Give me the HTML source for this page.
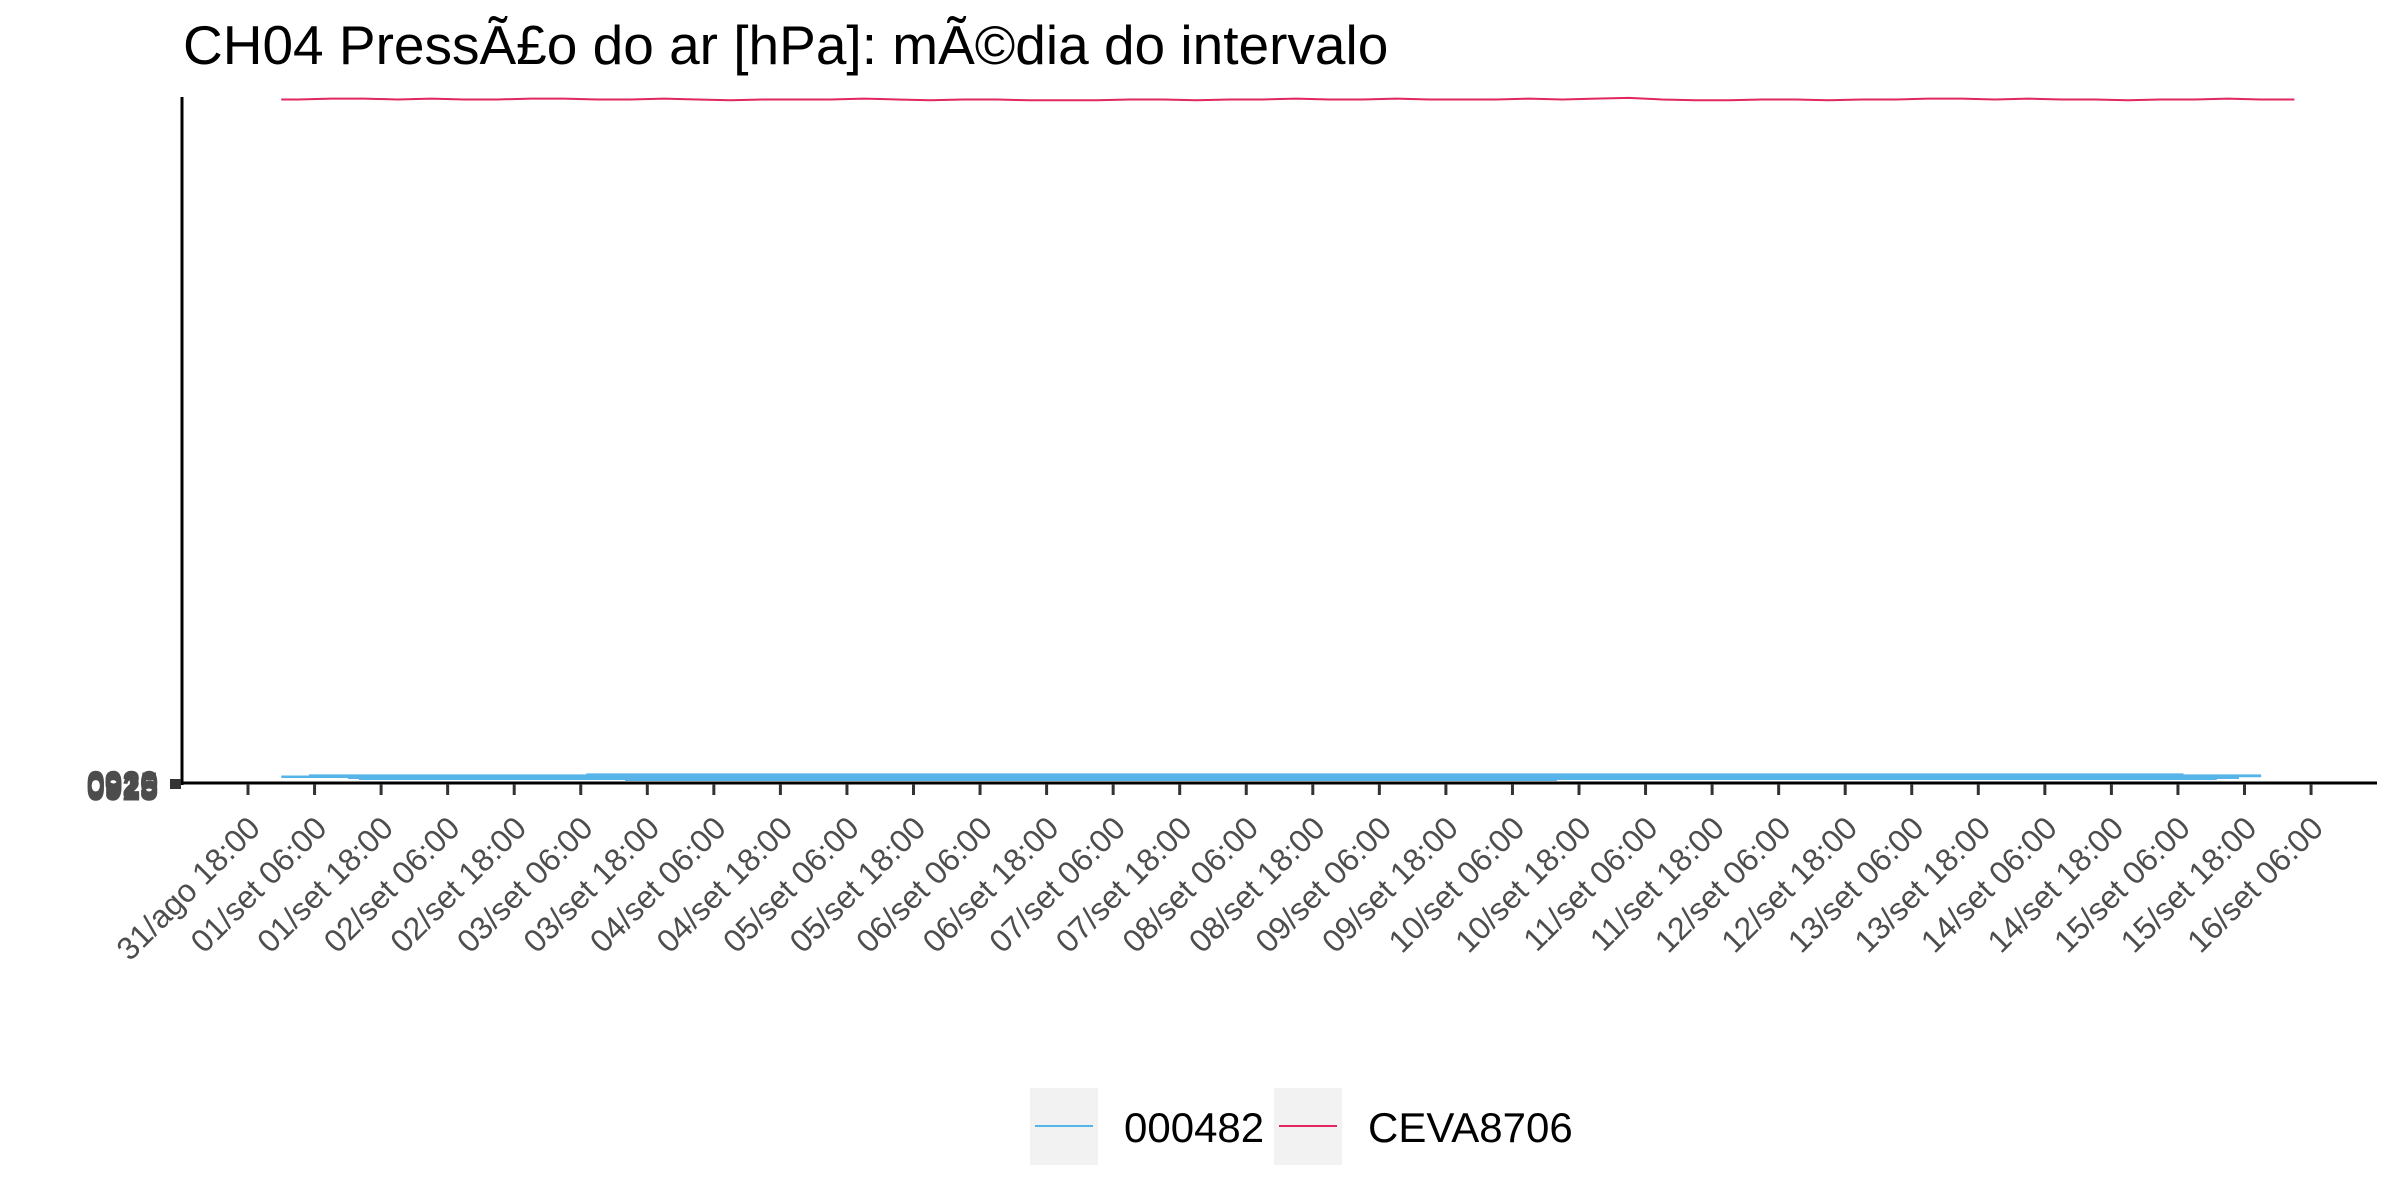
<!DOCTYPE html>
<html><head><meta charset="utf-8"><style>
html,body{margin:0;padding:0;background:#fff;}
svg{display:block;font-family:"Liberation Sans",sans-serif;}
</style></head><body>
<svg id="chart" width="2400" height="1200" viewBox="0 0 2400 1200">
<text x="183" y="64" font-size="55" fill="#000">CH04 PressÃ£o do ar [hPa]: mÃ©dia do intervalo</text>
<g id="plot"></g>
<g id="xaxis"></g>
<g id="yaxis"></g>
<g>
 <g>
  <rect x="1030" y="1088" width="68" height="77" fill="#f2f2f2"/>
  <line x1="1035" x2="1093" y1="1126" y2="1126" stroke="#56b4e9" stroke-width="2"/>
  <text x="1124" y="1142" font-size="42" fill="#000">000482</text>
 </g>
 <g>
  <rect x="1274" y="1088" width="68" height="77" fill="#f2f2f2"/>
  <line x1="1279" x2="1337" y1="1126" y2="1126" stroke="#e2265f" stroke-width="2"/>
  <text x="1368" y="1142" font-size="42" fill="#000">CEVA8706</text>
 </g>
</g>
</svg>
<script>
const tickLabels = ["31/ago 18:00","01/set 06:00","01/set 18:00","02/set 06:00","02/set 18:00","03/set 06:00","03/set 18:00","04/set 06:00","04/set 18:00","05/set 06:00","05/set 18:00","06/set 06:00","06/set 18:00","07/set 06:00","07/set 18:00","08/set 06:00","08/set 18:00","09/set 06:00","09/set 18:00","10/set 06:00","10/set 18:00","11/set 06:00","11/set 18:00","12/set 06:00","12/set 18:00","13/set 06:00","13/set 18:00","14/set 06:00","14/set 18:00","15/set 06:00","15/set 18:00","16/set 06:00"];
const yTickLabels = ["0920","925","0915","915","0925"];
const redHours = [6,9,15,21,27,33,39,45,51,57,63,69,75,81,87,93,99,105,111,117,123,129,135,141,147,153,159,165,171,177,183,189,195,201,207,213,219,225,231,237,243,249,255,261,267,273,279,285,291,297,303,309,315,321,327,333,339,345,351,357,363,369];
const redValues = [922,922,923,923,922,923,922,922,923,923,922,922,923,922,921,922,922,922,923,922,921,922,922,921,921,921,922,922,921,922,922,923,922,922,923,922,922,922,923,922,923,924,922,921,921,922,922,921,922,922,923,923,922,923,922,922,921,922,922,923,922,922];
const blueHours = [6,11,18,20,61,68,236,349,355,359,363];
const blueHigh = [99.2,100.5,100.5,100.5,101.7,101.7,101.7,100.5,100.5,100.5];
const blueLow = [96.1,96.1,94.9,93.7,93.7,92.4,93.7,93.7,94.9,97.0];

const NS="http://www.w3.org/2000/svg";
const X0=248, PX_PER_H=66.55/12, Y_BOT=783, Y_TOP=97, YMIN=90, YMAX=925;
const xs=h=>X0+h*PX_PER_H;
const ys=v=>Y_BOT-(v-YMIN)/(YMAX-YMIN)*(Y_BOT-Y_TOP);
function mk(t,a,p){const e=document.createElementNS(NS,t);for(const k in a)e.setAttribute(k,a[k]);p.appendChild(e);return e;}
const plot=document.getElementById('plot'),xa=document.getElementById('xaxis'),ya=document.getElementById('yaxis');

let pts=[];
for(let i=0;i<blueHigh.length;i++){pts.push(xs(blueHours[i])+','+ys(blueHigh[i]));pts.push(xs(blueHours[i+1])+','+ys(blueHigh[i]));}
for(let i=blueLow.length-1;i>=0;i--){pts.push(xs(blueHours[i+1])+','+ys(blueLow[i]));pts.push(xs(blueHours[i])+','+ys(blueLow[i]));}
const band=mk('polygon',{points:pts.join(' '),fill:'#56b4e9'},plot);



const rp=redHours.map((h,i)=>xs(h)+','+ys(redValues[i])).join(' ');
const red=mk('polyline',{points:rp,fill:'none',stroke:'#e2265f','stroke-width':2},plot);



const yl=mk('line',{x1:182,x2:182,y1:97,y2:785,stroke:'#000','stroke-width':3},ya);


const xl=mk('line',{x1:180,x2:2377,y1:783,y2:783,stroke:'#000','stroke-width':3},xa);



tickLabels.forEach((lab,i)=>{
  const x=xs(i*12);
  const t=mk('line',{x1:x,x2:x,y1:784,y2:795,stroke:'#333','stroke-width':3},xa);
  
  
  const tx=mk('text',{transform:`translate(${x+14},830) rotate(-45)`,'text-anchor':'end','font-size':32,fill:'#4d4d4d'},xa);
  tx.textContent=lab;
  
  
});
const tk=mk('rect',{x:170,y:779,width:11,height:10,fill:'#333'},ya);


yTickLabels.forEach((lab,i)=>{
  const t=mk('text',{x:158,y:797+(i-2)*1.5,'text-anchor':'end','font-size':32,fill:'#4d4d4d',stroke:'#4d4d4d','stroke-width':1},ya);
  t.textContent=lab;
  
  
});
</script>
</body></html>
